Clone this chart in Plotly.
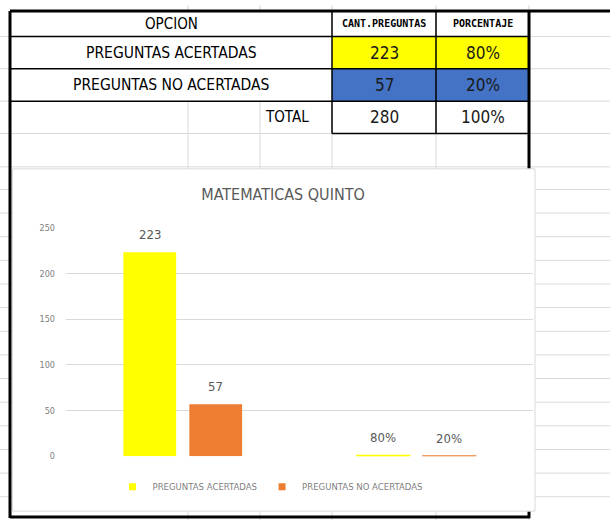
import plotly.graph_objects as go

# ============================================================================
# Hoja de calculo: MATEMATICAS QUINTO  (tabla + grafico de columnas)
# ============================================================================

encabezados = ['OPCION', 'CANT.PREGUNTAS', 'PORCENTAJE']
opciones = ['PREGUNTAS ACERTADAS', 'PREGUNTAS NO ACERTADAS']
cantidades = [223, 57]
porcentajes = [0.80, 0.20]
total_label = 'TOTAL'
total_cant = 280
total_pct = 1.00
titulo = 'MATEMATICAS QUINTO'

# --- estilos ---------------------------------------------------------------
W, H = 610, 525
NARROW = 'Liberation Sans Narrow, Arial Narrow, DejaVu Sans Condensed, sans-serif'
MONO = 'DejaVu Sans Mono, monospace'
GRID = '#d9d9d9'
CELL_FILL = ['#FFFF00', '#4472C4']
BAR_COLORS = ['#FFFF00', '#ED7D31']

# columnas / filas de la hoja (en pixeles de la pagina)
COLS = [10, 188, 260, 332, 436, 529]
ROWS = [6, 32, 65, 98, 131, 165]
CHART = (12.5, 167, 535, 516)          # x0, y0, x1, y1 del area del grafico
PLOT_X = (66, 533)
PLOT_Y = (460, 227)                    # pixel de y=0 y de y=250
BARGAP = 0.435


def px(x):
    return x / W


def py(y):
    return 1 - y / H


def seg(x0, y0, x1, y1, color, width):
    return dict(type='line', xref='paper', yref='paper', layer='below',
                x0=px(x0), y0=py(y0), x1=px(x1), y1=py(y1),
                line=dict(color=color, width=width))


def box(x0, y0, x1, y1, fill, line_color=None, line_width=0):
    return dict(type='rect', xref='paper', yref='paper', layer='below',
                x0=px(x0), y0=py(y0), x1=px(x1), y1=py(y1), fillcolor=fill,
                line=dict(color=line_color or fill, width=line_width))


def label(x, y, text, size, family=NARROW, color='#000000', xanchor='center'):
    return dict(xref='paper', yref='paper', x=px(x), y=py(y), text=text,
                showarrow=False, xanchor=xanchor, yanchor='middle',
                font=dict(family=family, size=size, color=color))


shapes = []

# cuadricula gris de la hoja
for x in COLS[1:]:
    shapes.append(seg(x, 0, x, H, GRID, 1))
row_lines = ROWS[1:] + [188 + k * 24.1 for k in range(14)]
for y in row_lines:
    shapes.append(seg(0, y, W, y, GRID, 1))

# celda combinada A:C en las tres primeras filas
shapes.append(box(COLS[0], ROWS[0], COLS[3], ROWS[3], 'white'))

# rellenos de color
for i in range(len(opciones)):
    shapes.append(box(COLS[3], ROWS[i + 1], COLS[5], ROWS[i + 2], CELL_FILL[i]))

# borde derecho (queda bajo el grafico)
shapes.append(seg(COLS[5], ROWS[0], COLS[5], 523, '#000000', 3))

# area del grafico
shapes.append(box(*CHART, 'white', GRID, 1))

# bordes negros de la tabla
shapes.append(seg(COLS[0], ROWS[0], W, ROWS[0], '#000000', 3))
shapes.append(seg(COLS[0], ROWS[0], COLS[0], 523, '#000000', 3))
shapes.append(seg(COLS[0], 522, COLS[5] + 1, 522, '#000000', 3))
for y in ROWS[1:4]:
    shapes.append(seg(COLS[0], y, COLS[5], y, '#000000', 1.5))
shapes.append(seg(COLS[3], ROWS[4], COLS[5], ROWS[4], '#000000', 1.5))
for x in COLS[3:5]:
    shapes.append(seg(x, ROWS[0], x, ROWS[4], '#000000', 1.5))

# textos de la tabla
annots = []
mid = lambda a, b: (a + b) / 2
annots.append(label(mid(COLS[0], COLS[3]), mid(ROWS[0], ROWS[1]), encabezados[0], 15))
annots.append(label(mid(COLS[3], COLS[4]), mid(ROWS[0], ROWS[1]),
                    f'<b>{encabezados[1]}</b>', 10, MONO))
annots.append(label(mid(COLS[4], COLS[5]), mid(ROWS[0], ROWS[1]),
                    f'<b>{encabezados[2]}</b>', 10, MONO))
for i, op in enumerate(opciones):
    yc = mid(ROWS[i + 1], ROWS[i + 2])
    annots.append(label(mid(COLS[0], COLS[3]), yc, op, 15.5))
    annots.append(label(mid(COLS[3], COLS[4]), yc, f'{cantidades[i]}', 17, color='#1a1a1a'))
    annots.append(label(mid(COLS[4], COLS[5]), yc, f'{porcentajes[i]:.0%}', 17, color='#1a1a1a'))
yc = mid(ROWS[3], ROWS[4])
annots.append(label(mid(COLS[2], COLS[3]) - 9, yc, total_label, 15))
annots.append(label(mid(COLS[3], COLS[4]), yc, f'{total_cant}', 17, color='#1a1a1a'))
annots.append(label(mid(COLS[4], COLS[5]), yc, f'{total_pct:.0%}', 17, color='#1a1a1a'))

# --- grafico -----------------------------------------------------------------
fig = go.Figure()
categorias = encabezados[1:]

# ancho de cada barra del grupo, en pixeles (para centrar las etiquetas)
slot = (PLOT_X[1] - PLOT_X[0]) / len(categorias) * (1 - BARGAP) / len(opciones)

for i, op in enumerate(opciones):
    vals = [cantidades[i], porcentajes[i]]
    textos = [f'{cantidades[i]}', f'{porcentajes[i]:.0%}']
    fig.add_bar(
        x=categorias, y=vals, name=op, showlegend=False,
        marker=dict(color=BAR_COLORS[i],
                    line=dict(color=BAR_COLORS[i], width=[0, 1.5])),
    )
    shift = (i - (len(opciones) - 1) / 2) * slot
    for cat, v, t in zip(categorias, vals, textos):
        annots.append(dict(x=cat, y=v, xref='x', yref='y', text=t,
                           showarrow=False, xshift=shift, yshift=18,
                           yanchor='middle',
                           font=dict(family=NARROW, size=13, color='#595959')))

for i, op in enumerate(opciones):
    fig.add_scatter(x=[None], y=[None], mode='markers', name=op,
                    marker=dict(symbol='square', size=7, color=BAR_COLORS[i]))

fig.update_layout(
    width=W, height=H,
    margin=dict(l=0, r=0, t=0, b=0),
    paper_bgcolor='white', plot_bgcolor='rgba(0,0,0,0)',
    barmode='group', bargap=BARGAP, bargroupgap=0.2,
    title=dict(text=titulo, x=px(283), y=py(193), xref='paper', yref='paper',
               xanchor='center', yanchor='middle',
               font=dict(family=NARROW, size=16, color='#595959')),
    xaxis=dict(domain=[px(PLOT_X[0]), px(PLOT_X[1])], showticklabels=False,
               showgrid=False, zeroline=False, showline=False, ticks=''),
    yaxis=dict(domain=[py(PLOT_Y[0]), py(PLOT_Y[1])], range=[0, 250], dtick=50,
               gridcolor=GRID, gridwidth=1.3, zeroline=False, showline=False,
               ticklabelstandoff=10,
               tickfont=dict(family=NARROW, size=9, color='#808080')),
    legend=dict(orientation='h', x=px(270), y=py(491), xanchor='center',
                yanchor='middle', bgcolor='rgba(0,0,0,0)',
                font=dict(family=NARROW, size=9.5, color='#7f7f7f')),
    shapes=shapes, annotations=annots,
)

# sin margen del body para que la figura llene la ventana
fig.write_html('out.html', config={'displayModeBar': False},
               post_script="document.body.style.margin='0';")
